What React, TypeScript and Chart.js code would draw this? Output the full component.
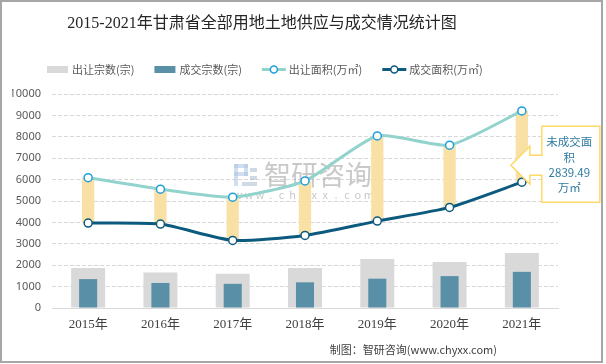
import React, { useEffect, useRef } from 'react';
import { Chart, registerables } from 'chart.js';

Chart.register(...registerables);

const categories = ['2015年', '2016年', '2017年', '2018年', '2019年', '2020年', '2021年'];
const supplyCount = [1870, 1660, 1600, 1870, 2290, 2150, 2570];
const dealCount = [1350, 1170, 1130, 1200, 1370, 1490, 1690];
const supplyArea = [6090, 5550, 5180, 5940, 8040, 7610, 9210];
const dealArea = [3970, 3920, 3160, 3390, 4060, 4700, 5880];
const yMin = 0;
const yMax = 10000;
const yStep = 1000;

const titleText = '2015-2021年甘肃省全部用地土地供应与成交情况统计图';
const legendLabels = ['出让宗数(宗)', '成交宗数(宗)', '出让面积(万㎡)', '成交面积(万㎡)'];
const calloutLines = ['未成交面', '积', '2839.49', '万㎡'];
const sourceText = '制图：智研咨询(www.chyxx.com)';

const C_GREY = '#D9D9D9';
const C_BLUE = '#5A8FA8';
const C_TEAL = '#93D3CE';
const C_DARK = '#0C5A7E';
const C_TEAL_PT = '#1E9FDB';
const C_YELLOW = '#F9E1A6';
const SANS = "'Noto Sans CJK SC', 'Noto Sans', sans-serif";
const SERIF = "'Liberation Serif', 'Noto Sans CJK SC', serif";

const decorPlugin = {
  id: 'decor',
  beforeDraw(chart: any) {
    const ctx = chart.ctx;
    ctx.save();
    ctx.fillStyle = '#ffffff';
    ctx.fillRect(0, 0, chart.width, chart.height);
    ctx.restore();
  },
  beforeDatasetsDraw(chart: any) {
    const ctx = chart.ctx;
    ctx.save();
    ctx.fillStyle = 'rgba(170,195,225,0.55)';
    ctx.fillRect(234, 164, 14, 4);
    ctx.fillRect(244, 164, 4, 12);
    ctx.fillRect(234, 172, 14, 4);
    ctx.fillRect(234, 164, 4, 22);
    ctx.fillStyle = 'rgba(150,170,200,0.45)';
    ctx.fillRect(250, 168, 7, 4);
    ctx.fillRect(250, 176, 7, 4);
    ctx.fillRect(242, 182, 15, 4);
    ctx.fillStyle = 'rgba(165,165,165,0.6)';
    ctx.font = `27px ${SANS}`;
    ctx.textBaseline = 'middle';
    ctx.textAlign = 'left';
    ctx.fillText('智研咨询', 264, 175);
    ctx.font = `11px ${SANS}`;
    ctx.textAlign = 'center';
    const w = 'www.chyxx.com';
    for (let i = 0; i < w.length; i++) {
      ctx.fillText(w[i], 238 + i * 10.9, 195);
    }
    ctx.restore();
  },
  afterDraw(chart: any) {
    const ctx = chart.ctx;
    ctx.save();
    ctx.fillStyle = '#262626';
    ctx.font = `16px ${SERIF}`;
    ctx.textAlign = 'center';
    ctx.textBaseline = 'middle';
    ctx.fillText(titleText, 262, 24);

    ctx.font = `11px ${SANS}`;
    ctx.textAlign = 'left';
    let x = 47;
    const ly = 69.5;
    legendLabels.forEach((lab, i) => {
      if (i < 2) {
        ctx.fillStyle = i === 0 ? C_GREY : C_BLUE;
        ctx.fillRect(x, ly - 3.5, 21, 7);
        x += 25;
      } else {
        const col = i === 2 ? C_TEAL : C_DARK;
        const pcol = i === 2 ? C_TEAL_PT : C_DARK;
        ctx.strokeStyle = col;
        ctx.lineWidth = 3;
        ctx.beginPath();
        ctx.moveTo(x, ly);
        ctx.lineTo(x + 24, ly);
        ctx.stroke();
        ctx.beginPath();
        ctx.arc(x + 12, ly, 3.5, 0, Math.PI * 2);
        ctx.fillStyle = '#fff';
        ctx.fill();
        ctx.lineWidth = 1.5;
        ctx.strokeStyle = pcol;
        ctx.stroke();
        x += 27;
      }
      ctx.fillStyle = '#595959';
      ctx.fillText(lab, x, ly);
      x += ctx.measureText(lab).width + 20;
    });

    const xs = chart.scales.x;
    const ys = chart.scales.y;
    const last = categories.length - 1;
    const tipX = xs.getPixelForValue(last) - 11;
    const tipY = ys.getPixelForValue(dealArea[last]) - 17;
    const baseX = tipX + 19;
    const boxL = tipX + 31;
    const boxT = tipY - 39;
    const boxW = 58;
    const boxH = 76;
    ctx.beginPath();
    ctx.moveTo(boxL, boxT);
    ctx.lineTo(boxL + boxW, boxT);
    ctx.lineTo(boxL + boxW, boxT + boxH);
    ctx.lineTo(boxL, boxT + boxH);
    ctx.lineTo(boxL, tipY + 10);
    ctx.lineTo(baseX, tipY + 10);
    ctx.lineTo(baseX, tipY + 19);
    ctx.lineTo(tipX, tipY);
    ctx.lineTo(baseX, tipY - 19);
    ctx.lineTo(baseX, tipY - 10);
    ctx.lineTo(boxL, tipY - 10);
    ctx.closePath();
    ctx.fillStyle = '#ffffff';
    ctx.fill();
    ctx.strokeStyle = '#FFD966';
    ctx.lineWidth = 1.5;
    ctx.stroke();
    ctx.fillStyle = '#2E7B9E';
    ctx.font = `11.5px ${SANS}`;
    ctx.textAlign = 'center';
    const offs = [15, 31, 46.5, 61.5];
    calloutLines.forEach((t, i) => {
      ctx.fillText(t, boxL + boxW / 2 - 1.5, boxT + offs[i]);
    });

    ctx.fillStyle = '#404040';
    ctx.font = `11px ${SANS}`;
    ctx.textAlign = 'right';
    ctx.fillText(sourceText, 497, 350);

    ctx.strokeStyle = '#A6A6A6';
    ctx.lineWidth = 2;
    ctx.strokeRect(1, 1, 601, 361);
    ctx.restore();
  },
};

export default function App() {
  const ref = useRef<HTMLCanvasElement | null>(null);
  useEffect(() => {
    document.body.style.margin = '0';
    const canvas = ref.current;
    if (!canvas) return;
    const chart = new Chart(canvas, {
      type: 'bar',
      data: {
        labels: categories,
        datasets: [
          {
            type: 'line',
            label: legendLabels[2],
            data: supplyArea,
            borderColor: C_TEAL,
            borderWidth: 3,
            pointRadius: 4,
            pointBackgroundColor: '#ffffff',
            pointBorderColor: C_TEAL_PT,
            pointBorderWidth: 1.5,
            tension: 0.2,
            order: 0,
          } as any,
          {
            type: 'line',
            label: legendLabels[3],
            data: dealArea,
            borderColor: C_DARK,
            borderWidth: 3,
            pointRadius: 4,
            pointBackgroundColor: '#ffffff',
            pointBorderColor: C_DARK,
            pointBorderWidth: 1.5,
            tension: 0.2,
            order: 0,
          } as any,
          {
            type: 'bar',
            label: 'gap',
            data: supplyArea.map((v, i) => [dealArea[i], v]),
            backgroundColor: C_YELLOW,
            barPercentage: 0.17,
            categoryPercentage: 1,
            grouped: false,
            order: 1,
          } as any,
          {
            type: 'bar',
            label: legendLabels[1],
            data: dealCount,
            backgroundColor: C_BLUE,
            barPercentage: 0.25,
            categoryPercentage: 1,
            grouped: false,
            order: 2,
          } as any,
          {
            type: 'bar',
            label: legendLabels[0],
            data: supplyCount,
            backgroundColor: C_GREY,
            barPercentage: 0.47,
            categoryPercentage: 1,
            grouped: false,
            order: 3,
          } as any,
        ],
      },
      options: {
        responsive: false,
        animation: false,
        devicePixelRatio: 1,
        layout: { padding: { left: 12, right: 48, top: 94, bottom: 0 } },
        plugins: {
          legend: { display: false },
          title: { display: false },
          tooltip: { enabled: false },
        },
        scales: {
          x: {
            grid: { display: false, drawTicks: false },
            border: { display: true, color: C_GREY, width: 1 },
            ticks: {
              color: '#404040',
              font: { family: SERIF, size: 13 },
              padding: 9,
            },
            afterFit: (s: any) => {
              s.height = 56;
            },
          },
          y: {
            min: yMin,
            max: yMax,
            grid: { color: C_GREY, lineWidth: 1, drawTicks: false },
            border: { display: false, dash: [4, 2] },
            ticks: {
              stepSize: yStep,
              color: '#595959',
              font: { family: "'Noto Sans', sans-serif", size: 11 },
              padding: 11,
              callback: (v: any) => String(v),
            },
            afterFit: (s: any) => {
              s.width = 40;
            },
          },
        },
      } as any,
      plugins: [decorPlugin],
    });
    return () => chart.destroy();
  }, []);
  return <canvas ref={ref} width={606} height={364} style={{ display: 'block' }} />;
}
